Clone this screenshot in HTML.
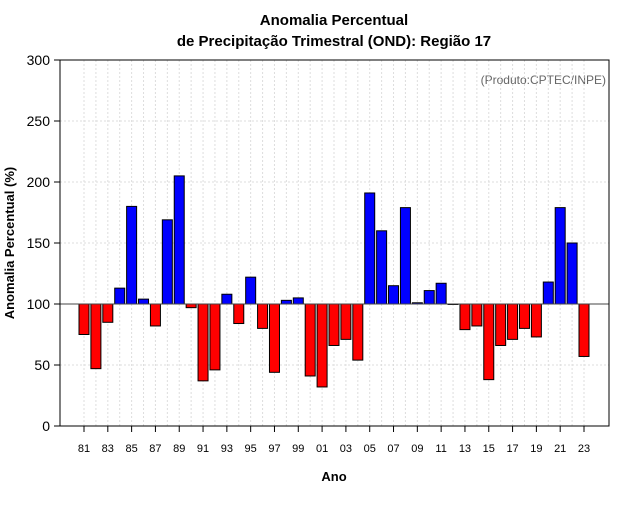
<!DOCTYPE html>
<html><head><meta charset="utf-8"><style>body{margin:0;background:#fff}svg text{font-family:"Liberation Sans",sans-serif}</style></head>
<body>
<svg id="c" width="640" height="500" xmlns="http://www.w3.org/2000/svg">
<text x="334" y="25" text-anchor="middle" font-size="15" font-weight="bold">Anomalia Percentual</text>
<text x="334" y="46" text-anchor="middle" font-size="15" font-weight="bold">de Precipitação Trimestral (OND): Região 17</text>
<text x="606" y="84" text-anchor="end" font-size="12" fill="#666">(Produto:CPTEC/INPE)</text>
<text x="334" y="481" text-anchor="middle" font-size="13" font-weight="bold">Ano</text>
<text transform="translate(14,243) rotate(-90)" text-anchor="middle" font-size="13" font-weight="bold">Anomalia Percentual (%)</text>
<g id="grid"></g><g id="bars"></g><g id="axes"></g>
</svg>
<script>
const years=[];for(let y=1981;y<=2023;y++)years.push(y);
const values=[75,47,85,113,180,104,82,169,205,97,37,46,108,84,122,80,44,103,105,41,32,66,71,54,191,160,115,179,101,111,117,100,79,82,38,66,71,80,73,118,179,150,57];
const yTicks=[0,50,100,150,200,250,300];
const NS='http://www.w3.org/2000/svg';
const L=60,R=609,T=60,B=426;
const x=i=>84+i*(500/42);
const y=v=>B-(v/300)*(B-T);
function mk(p,tag,a){const e=document.createElementNS(NS,tag);for(const k in a)e.setAttribute(k,a[k]);p.appendChild(e);return e;}
const g=document.getElementById('grid'),b=document.getElementById('bars'),ax=document.getElementById('axes');
years.forEach((yr,i)=>{const l=mk(g,'line',{x1:x(i),x2:x(i),y1:T,y2:B,stroke:'#ddd','stroke-dasharray':'2,2'});

});
yTicks.forEach(t=>{const l=mk(g,'line',{x1:L,x2:R,y1:y(t),y2:y(t),stroke:'#ddd','stroke-dasharray':'2,2'});


const tk=mk(ax,'line',{x1:L-6,x2:L,y1:y(t),y2:y(t),stroke:'#000'});


const tx=mk(ax,'text',{x:L-10,y:y(t)+5,'text-anchor':'end','font-size':'14'});tx.textContent=t;

});
const y100=y(100);
values.forEach((v,i)=>{const top=Math.min(y(v),y100),h=Math.abs(y(v)-y100);
const r=mk(b,'rect',{x:x(i)-5,y:top,width:10,height:Math.max(h,0.5),fill:v>=100?'#0000ff':'#ff0000',stroke:'#000','stroke-width':1});

});
const bl=mk(ax,'line',{x1:L,x2:R,y1:y100,y2:y100,stroke:'#444'});


const fr=mk(ax,'rect',{x:L,y:T,width:R-L,height:B-T,fill:'none',stroke:'#000'});


years.forEach((yr,i)=>{if(yr%2===1){const tk=mk(ax,'line',{x1:x(i),x2:x(i),y1:B,y2:B+6,stroke:'#000'});


const tx=mk(ax,'text',{x:x(i),y:B+26,'text-anchor':'middle','font-size':'11'});tx.textContent=String(yr%100).padStart(2,'0');

}});
</script>
</body></html>
